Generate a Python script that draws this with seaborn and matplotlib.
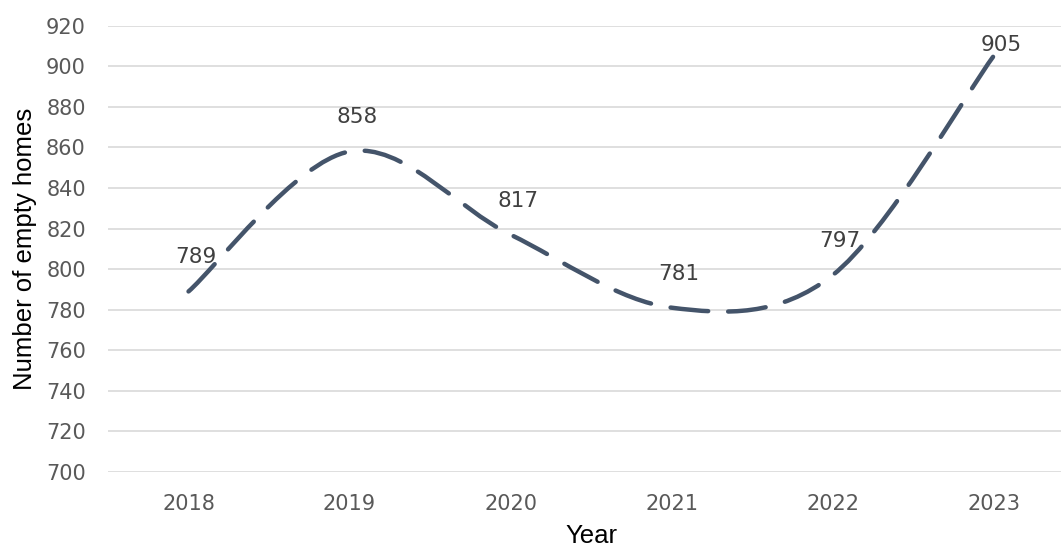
import matplotlib

matplotlib.use("Agg")
import matplotlib.pyplot as plt
import seaborn as sns
from matplotlib.path import Path
from matplotlib.patches import PathPatch

years = ["2018", "2019", "2020", "2021", "2022", "2023"]
empty_homes = [789, 858, 817, 781, 797, 905]
y_ticks = [700, 720, 740, 760, 780, 800, 820, 840, 860, 880, 900, 920]

LINE_COLOR = "#44546A"
GRID_COLOR = "#D9D9D9"
TICK_COLOR = "#595959"
LABEL_COLOR = "#404040"
NUM_FONT = ["DejaVu Sans"]
TITLE_FONT = ["Liberation Sans", "DejaVu Sans"]


def smooth_path(xs, ys):
    # Excel style smoothed line: cubic bezier segments through every point
    pts = list(zip(xs, ys))
    verts = [pts[0]]
    codes = [Path.MOVETO]
    n = len(pts)
    for i in range(n - 1):
        p_prev = pts[max(i - 1, 0)]
        p0 = pts[i]
        p1 = pts[i + 1]
        p_next = pts[min(i + 2, n - 1)]
        c1 = (p0[0] + (p1[0] - p_prev[0]) / 6.0, p0[1] + (p1[1] - p_prev[1]) / 6.0)
        c2 = (p1[0] - (p_next[0] - p0[0]) / 6.0, p1[1] - (p_next[1] - p0[1]) / 6.0)
        verts += [c1, c2, p1]
        codes += [Path.CURVE4] * 3
    return Path(verts, codes)


def main():
    sns.set_theme(style="white")
    plt.rcParams["font.family"] = TITLE_FONT

    fig = plt.figure(figsize=(10.61, 5.48), dpi=100)
    ax = fig.add_axes([0.1018, 0.1387, 0.9105, 0.8144])

    positions = list(range(len(years)))
    patch = PathPatch(smooth_path(positions, empty_homes), fill=False,
                      edgecolor=LINE_COLOR, linewidth=3.2, capstyle="round")
    patch.set_linestyle((0, (8.5, 4.5)))
    ax.add_patch(patch)

    # data labels sit above the points, last one is pushed down into the plot area
    label_dy = [24.5, 24.5, 24.5, 24.5, 24.5, 8]
    for x, v, dy in zip(positions, empty_homes, label_dy):
        ax.annotate(str(v), (x, v), xytext=(5.5, dy), textcoords="offset points",
                    ha="center", va="center", fontsize=15.5, color=LABEL_COLOR,
                    family=NUM_FONT)

    ax.set_xlim(-0.5, len(years) - 0.5)
    ax.set_ylim(700, 920)
    ax.set_xticks(positions)
    ax.set_xticklabels(years)
    ax.set_yticks(y_ticks)
    ax.tick_params(axis="both", length=0, labelsize=15, colors=TICK_COLOR)
    ax.tick_params(axis="x", pad=16)
    ax.tick_params(axis="y", pad=16)
    for lab in ax.get_xticklabels() + ax.get_yticklabels():
        lab.set_family(NUM_FONT)
    ax.yaxis.grid(True, color=GRID_COLOR, linewidth=1.2)
    ax.xaxis.grid(False)
    ax.set_axisbelow(True)
    sns.despine(ax=ax, left=True, bottom=True)

    ax.set_xlabel("Year", fontsize=18.5, color="black")
    ax.set_ylabel("Number of empty homes", fontsize=18.5, color="black")
    ax.xaxis.set_label_coords(0.5, -0.116)
    ax.yaxis.set_label_coords(-0.074, 0.5)

    fig.savefig("out.png", dpi=100)
    plt.close(fig)


if __name__ == "__main__":
    main()
